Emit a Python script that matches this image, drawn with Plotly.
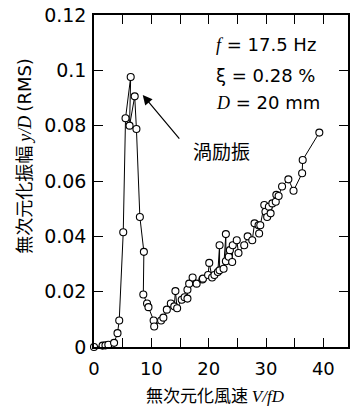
import plotly.graph_objects as go

# Data (sweep order, includes hysteresis pairs)
vfd = [0.0, 1.5, 2.0, 2.5, 3.5, 4.1, 4.4, 5.1, 5.5, 6.4, 6.2, 7.1, 7.4, 8.0, 8.7, 8.6,
       9.25, 9.5, 10.4, 10.5, 11.7, 12.1, 12.7, 13.4, 14.0, 14.2, 14.5, 15.3, 15.8,
       16.3, 16.3, 16.6, 17.2, 17.9, 18.9, 19.0, 19.9, 20.1, 20.6, 21.0, 21.6, 21.9,
       21.9, 22.6, 23.0, 23.0, 23.5, 23.7, 24.1, 24.2, 24.9, 25.2, 26.2, 26.8, 27.6,
       28.0, 28.7, 28.8, 29.0, 29.7, 29.9, 30.2, 30.5, 30.8, 31.1, 31.7, 31.8, 32.2,
       32.8, 33.9, 34.8, 36.3, 36.4, 39.3]
yd = [0.0, 0.0005, 0.0006, 0.0008, 0.0015, 0.005, 0.0096, 0.0415, 0.0827, 0.0976,
      0.080, 0.0906, 0.0788, 0.047, 0.0344, 0.019, 0.0157, 0.0144, 0.0096, 0.0074,
      0.0096, 0.0106, 0.0135, 0.0157, 0.0147, 0.0202, 0.0140, 0.0171, 0.0180, 0.0175,
      0.0207, 0.0229, 0.0251, 0.0229, 0.0244, 0.0247, 0.0260, 0.0304, 0.0251, 0.0260,
      0.0271, 0.0368, 0.0277, 0.0283, 0.0408, 0.0310, 0.0326, 0.0350, 0.0307, 0.0368,
      0.0386, 0.0340, 0.0368, 0.0400, 0.0386, 0.0447, 0.0440, 0.0410, 0.0440, 0.0513,
      0.0489, 0.0470, 0.0507, 0.0483, 0.0519, 0.0525, 0.0550, 0.0546, 0.0580, 0.0606,
      0.0565, 0.0628, 0.0676, 0.0775]

x_tickvals = [0, 5, 10, 15, 20, 25, 30, 35, 40]
x_ticktext = ["0", "", "10", "", "20", "", "30", "", "40"]
y_tickvals = [0, 0.02, 0.04, 0.06, 0.08, 0.1, 0.12]
y_ticktext = ["0", "0.02", "0.04", "0.06", "0.08", "0.1", "0.12"]

LAT = "DejaVu Sans"
CJK = "Noto Sans CJK JP"
SER = "Liberation Serif"

fig = go.Figure()
fig.add_trace(go.Scatter(
    x=vfd, y=yd, mode="lines+markers",
    line=dict(color="black", width=1),
    marker=dict(symbol="circle", size=7, color="white", line=dict(color="black", width=1.1)),
    cliponaxis=False, showlegend=False,
))

axis_common = dict(
    showline=True, linecolor="black", linewidth=1.5, mirror="ticks",
    ticks="inside", ticklen=9, tickwidth=1.2, tickcolor="black",
    showgrid=False, zeroline=False,
)

fig.update_xaxes(range=[0, 44.3], tickmode="array", tickvals=x_tickvals,
                 ticktext=x_ticktext, ticklabelstandoff=5,
                 tickfont=dict(family=LAT, size=18, color="black"), **axis_common)
fig.update_yaxes(range=[0, 0.12], tickmode="array", tickvals=y_tickvals,
                 ticktext=y_ticktext, ticklabelstandoff=2,
                 tickfont=dict(family=LAT, size=19, color="black"), **axis_common)

ann = []
# axis titles
ann.append(dict(xref="paper", yref="paper", x=0.48, y=-0.142, xanchor="center", yanchor="middle",
                text="無次元化風速 <span style='font-family:%s'><i>V/fD</i></span>" % SER,
                showarrow=False, font=dict(family=CJK, size=17, color="black")))
ann.append(dict(xref="paper", yref="paper", x=-0.281, y=0.575, xanchor="center", yanchor="middle",
                textangle=-90,
                text="無次元化振幅 <span style='font-family:%s'><i>y/D</i></span> <span style='font-family:%s'>(RMS)</span>" % (SER, LAT),
                showarrow=False, font=dict(family=CJK, size=18, color="black")))
# parameter labels
params = [("<span style='font-family:%s'><i>f</i></span> = 17.5 Hz" % SER, 0.1092),
          ("ξ = 0.28 %", 0.0983),
          ("<span style='font-family:%s'><i>D</i></span> = 20 mm" % SER, 0.0882)]
for t, yy in params:
    ann.append(dict(x=21.0, y=yy, xref="x", yref="y", xanchor="left", yanchor="middle",
                    text=t, showarrow=False, font=dict(family=LAT, size=18, color="black")))
# vortex-induced vibration label & arrow
ann.append(dict(x=22.2, y=0.0712, xref="x", yref="y", text="渦励振", showarrow=False,
                font=dict(family=CJK, size=19, color="black")))
ann.append(dict(x=8.5, y=0.0911, ax=15.1, ay=0.0748, xref="x", yref="y", axref="x", ayref="y",
                text="", showarrow=True, arrowhead=2, arrowsize=1.6, arrowwidth=1.2,
                arrowcolor="black"))

fig.update_layout(
    width=353, height=407,
    margin=dict(l=94, r=3, t=15, b=60),
    paper_bgcolor="white", plot_bgcolor="white",
    annotations=ann,
)

fig.write_html("out.html")
